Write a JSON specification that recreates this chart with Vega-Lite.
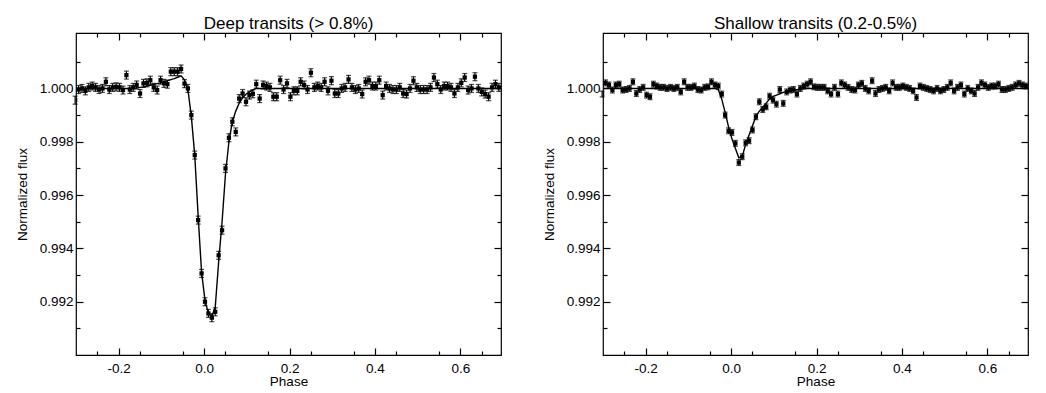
{
"$schema": "https://vega.github.io/schema/vega-lite/v6.json",
"background": "white",
"padding": {"left": 14, "top": 14, "right": 5, "bottom": 0},
"spacing": 38,
"config": {
  "font": "Liberation Sans",
  "mark": {"color": "black"},
  "view": {"stroke": "black", "strokeWidth": 1.2},
  "title": {"font": "Liberation Sans", "fontSize": 17, "fontWeight": "normal", "color": "black", "offset": -1, "frame": "group"},
  "axis": {"labelFont": "Liberation Sans", "labelFontSize": 13.5, "labelColor": "black", "titleFont": "Liberation Sans", "titleFontSize": 13.5, "titleFontWeight": "normal", "titleColor": "black", "tickColor": "black", "tickWidth": 1.2, "domain": false, "grid": false, "labelFlush": false}
},
"datasets": {
"deep": [
{"p":-0.302,"f":0.99956,"m":1,"e":0.00015},{"p":-0.294,"f":0.99996,"m":1,"e":0.00015},{"p":-0.286,"f":1.00000,"m":1,"e":0.00015},{"p":-0.278,"f":0.99991,"m":1,"e":0.00015},{"p":-0.270,"f":1.00004,"m":1,"e":0.00015},{"p":-0.262,"f":1.00009,"m":1,"e":0.00015},{"p":-0.254,"f":1.00004,"m":1,"e":0.00015},{"p":-0.246,"f":0.99996,"m":1,"e":0.00015},{"p":-0.238,"f":1.00000,"m":1,"e":0.00015},{"p":-0.230,"f":1.00025,"m":1,"e":0.00015},
{"p":-0.222,"f":0.99996,"m":1,"e":0.00015},{"p":-0.214,"f":1.00004,"m":1,"e":0.00015},{"p":-0.206,"f":1.00006,"m":1,"e":0.00015},{"p":-0.198,"f":1.00004,"m":1,"e":0.00015},{"p":-0.190,"f":0.99994,"m":1,"e":0.00015},{"p":-0.182,"f":1.00050,"m":1,"e":0.00015},{"p":-0.174,"f":0.99996,"m":1,"e":0.00015},{"p":-0.166,"f":1.00004,"m":1,"e":0.00015},{"p":-0.158,"f":1.00013,"m":1.00002,"e":0.00015},{"p":-0.150,"f":0.99981,"m":1.00004,"e":0.00015},
{"p":-0.142,"f":1.00019,"m":1.00006,"e":0.00015},{"p":-0.134,"f":1.00021,"m":1.00009,"e":0.00015},{"p":-0.126,"f":1.00031,"m":1.00012,"e":0.00015},{"p":-0.118,"f":1.00004,"m":1.00015,"e":0.00015},{"p":-0.110,"f":0.99994,"m":1.00018,"e":0.00015},{"p":-0.102,"f":1.00031,"m":1.00021,"e":0.00015},{"p":-0.094,"f":1.00019,"m":1.00025,"e":0.00015},{"p":-0.086,"f":1.00016,"m":1.00029,"e":0.00015},{"p":-0.078,"f":1.00063,"m":1.00033,"e":0.00015},{"p":-0.070,"f":1.00063,"m":1.00037,"e":0.00015},
{"p":-0.062,"f":1.00063,"m":1.00042,"e":0.00015},{"p":-0.054,"f":1.00073,"m":1.00047,"e":0.00015},{"p":-0.046,"f":1.00018,"m":1.00032,"e":0.00015},{"p":-0.038,"f":1.00000,"m":0.99995,"e":0.00015},{"p":-0.030,"f":0.99900,"m":0.99895,"e":0.00015},{"p":-0.022,"f":0.99750,"m":0.99750,"e":0.00015},{"p":-0.014,"f":0.99506,"m":0.99520,"e":0.00015},{"p":-0.006,"f":0.99306,"m":0.99310,"e":0.00015},{"p":0.002,"f":0.99200,"m":0.99205,"e":0.00015},{"p":0.010,"f":0.99156,"m":0.99155,"e":0.00015},
{"p":0.018,"f":0.99140,"m":0.99145,"e":0.00015},{"p":0.026,"f":0.99162,"m":0.99180,"e":0.00015},{"p":0.034,"f":0.99374,"m":0.99350,"e":0.00015},{"p":0.042,"f":0.99468,"m":0.99500,"e":0.00015},{"p":0.050,"f":0.99700,"m":0.99680,"e":0.00015},{"p":0.058,"f":0.99815,"m":0.99800,"e":0.00015},{"p":0.066,"f":0.99875,"m":0.99875,"e":0.00015},{"p":0.074,"f":0.99837,"m":0.99915,"e":0.00015},{"p":0.082,"f":0.99962,"m":0.99945,"e":0.00015},{"p":0.090,"f":0.99981,"m":0.99965,"e":0.00015},
{"p":0.098,"f":0.99950,"m":0.99978,"e":0.00015},{"p":0.106,"f":0.99975,"m":0.99988,"e":0.00015},{"p":0.114,"f":0.99980,"m":0.99995,"e":0.00015},{"p":0.122,"f":1.00016,"m":1,"e":0.00015},{"p":0.130,"f":0.99962,"m":1,"e":0.00015},{"p":0.138,"f":1.00013,"m":1,"e":0.00015},{"p":0.146,"f":1.00009,"m":1,"e":0.00015},{"p":0.154,"f":1.00004,"m":1,"e":0.00015},{"p":0.162,"f":0.99969,"m":1,"e":0.00015},{"p":0.170,"f":0.99969,"m":1,"e":0.00015},
{"p":0.178,"f":1.00031,"m":1,"e":0.00015},{"p":0.186,"f":0.99996,"m":1,"e":0.00015},{"p":0.194,"f":1.00019,"m":1,"e":0.00015},{"p":0.202,"f":0.99969,"m":1,"e":0.00015},{"p":0.210,"f":0.99991,"m":1,"e":0.00015},{"p":0.218,"f":0.99991,"m":1,"e":0.00015},{"p":0.226,"f":1.00025,"m":1,"e":0.00015},{"p":0.234,"f":1.00013,"m":1,"e":0.00015},{"p":0.242,"f":0.99996,"m":1,"e":0.00015},{"p":0.250,"f":1.00059,"m":1,"e":0.00015},
{"p":0.258,"f":1.00004,"m":1,"e":0.00015},{"p":0.266,"f":1.00009,"m":1,"e":0.00015},{"p":0.274,"f":1.00004,"m":1,"e":0.00015},{"p":0.282,"f":1.00025,"m":1,"e":0.00015},{"p":0.290,"f":0.99991,"m":1,"e":0.00015},{"p":0.298,"f":1.00029,"m":1,"e":0.00015},{"p":0.306,"f":0.99981,"m":1,"e":0.00015},{"p":0.314,"f":0.99981,"m":1,"e":0.00015},{"p":0.322,"f":1.00000,"m":1,"e":0.00015},{"p":0.330,"f":1.00004,"m":1,"e":0.00015},
{"p":0.338,"f":1.00034,"m":1,"e":0.00015},{"p":0.346,"f":1.00004,"m":1,"e":0.00015},{"p":0.354,"f":0.99996,"m":1,"e":0.00015},{"p":0.362,"f":1.00000,"m":1,"e":0.00015},{"p":0.370,"f":0.99979,"m":1,"e":0.00015},{"p":0.378,"f":1.00025,"m":1,"e":0.00015},{"p":0.386,"f":1.00031,"m":1,"e":0.00015},{"p":0.394,"f":1.00009,"m":1,"e":0.00015},{"p":0.402,"f":1.00009,"m":1,"e":0.00015},{"p":0.410,"f":1.00031,"m":1,"e":0.00015},
{"p":0.418,"f":0.99975,"m":1,"e":0.00015},{"p":0.426,"f":1.00009,"m":1,"e":0.00015},{"p":0.434,"f":1.00000,"m":1,"e":0.00015},{"p":0.442,"f":0.99996,"m":1,"e":0.00015},{"p":0.450,"f":0.99996,"m":1,"e":0.00015},{"p":0.458,"f":1.00004,"m":1,"e":0.00015},{"p":0.466,"f":0.99981,"m":1,"e":0.00015},{"p":0.474,"f":0.99979,"m":1,"e":0.00015},{"p":0.482,"f":1.00000,"m":1,"e":0.00015},{"p":0.490,"f":1.00029,"m":1,"e":0.00015},
{"p":0.498,"f":1.00004,"m":1,"e":0.00015},{"p":0.506,"f":0.99996,"m":1,"e":0.00015},{"p":0.514,"f":0.99996,"m":1,"e":0.00015},{"p":0.522,"f":0.99996,"m":1,"e":0.00015},{"p":0.530,"f":1.00004,"m":1,"e":0.00015},{"p":0.538,"f":1.00041,"m":1,"e":0.00015},{"p":0.546,"f":1.00016,"m":1,"e":0.00015},{"p":0.554,"f":0.99996,"m":1,"e":0.00015},{"p":0.562,"f":1.00009,"m":1,"e":0.00015},{"p":0.570,"f":1.00009,"m":1,"e":0.00015},
{"p":0.578,"f":1.00004,"m":1,"e":0.00015},{"p":0.586,"f":0.99981,"m":1,"e":0.00015},{"p":0.594,"f":1.00004,"m":1,"e":0.00015},{"p":0.602,"f":1.00021,"m":1,"e":0.00015},{"p":0.610,"f":1.00041,"m":1,"e":0.00015},{"p":0.618,"f":0.99994,"m":1,"e":0.00015},{"p":0.626,"f":1.00000,"m":1,"e":0.00015},{"p":0.634,"f":1.00044,"m":1,"e":0.00015},{"p":0.642,"f":1.00000,"m":1,"e":0.00015},{"p":0.650,"f":0.99987,"m":1,"e":0.00015},
{"p":0.658,"f":0.99979,"m":1,"e":0.00015},{"p":0.666,"f":0.99969,"m":1,"e":0.00015},{"p":0.674,"f":1.00004,"m":1,"e":0.00015},{"p":0.682,"f":1.00016,"m":1,"e":0.00015},{"p":0.690,"f":1.00004,"m":1,"e":0.00015}
],
"shallow": [
{"p":-0.302,"f":0.99979,"m":1,"e":0.00011},{"p":-0.294,"f":1.00021,"m":1,"e":0.00011},{"p":-0.286,"f":1.00013,"m":1,"e":0.00011},{"p":-0.278,"f":0.99994,"m":1,"e":0.00011},{"p":-0.270,"f":1.00013,"m":1,"e":0.00011},{"p":-0.262,"f":1.00016,"m":1,"e":0.00011},{"p":-0.254,"f":0.99994,"m":1,"e":0.00011},{"p":-0.246,"f":0.99996,"m":1,"e":0.00011},{"p":-0.238,"f":1.00000,"m":1,"e":0.00011},{"p":-0.230,"f":1.00025,"m":1,"e":0.00011},
{"p":-0.222,"f":0.99981,"m":1,"e":0.00011},{"p":-0.214,"f":0.99996,"m":1,"e":0.00011},{"p":-0.206,"f":1.00004,"m":1,"e":0.00011},{"p":-0.198,"f":0.99975,"m":1,"e":0.00011},{"p":-0.190,"f":0.99969,"m":1,"e":0.00011},{"p":-0.182,"f":1.00016,"m":1,"e":0.00011},{"p":-0.174,"f":1.00009,"m":1,"e":0.00011},{"p":-0.166,"f":1.00004,"m":1,"e":0.00011},{"p":-0.158,"f":1.00004,"m":1,"e":0.00011},{"p":-0.150,"f":1.00000,"m":1,"e":0.00011},
{"p":-0.142,"f":1.00004,"m":1,"e":0.00011},{"p":-0.134,"f":1.00000,"m":1,"e":0.00011},{"p":-0.126,"f":1.00004,"m":1,"e":0.00011},{"p":-0.118,"f":0.99987,"m":1,"e":0.00011},{"p":-0.110,"f":1.00025,"m":1,"e":0.00011},{"p":-0.102,"f":1.00004,"m":1,"e":0.00011},{"p":-0.094,"f":1.00004,"m":1,"e":0.00011},{"p":-0.086,"f":1.00009,"m":1,"e":0.00011},{"p":-0.078,"f":0.99996,"m":1,"e":0.00011},{"p":-0.070,"f":0.99994,"m":1,"e":0.00011},
{"p":-0.062,"f":1.00004,"m":1,"e":0.00011},{"p":-0.054,"f":1.00006,"m":1,"e":0.00011},{"p":-0.046,"f":1.00025,"m":1,"e":0.00011},{"p":-0.038,"f":1.00013,"m":1,"e":0.00011},{"p":-0.030,"f":1.00009,"m":0.99995,"e":0.00011},{"p":-0.022,"f":0.99979,"m":0.9996,"e":0.00011},{"p":-0.014,"f":0.99900,"m":0.9991,"e":0.00011},{"p":-0.006,"f":0.99841,"m":0.99855,"e":0.00011},{"p":0.002,"f":0.99835,"m":0.9981,"e":0.00011},{"p":0.010,"f":0.99794,"m":0.99775,"e":0.00011},
{"p":0.018,"f":0.99722,"m":0.9974,"e":0.00011},{"p":0.026,"f":0.99744,"m":0.99745,"e":0.00011},{"p":0.034,"f":0.99796,"m":0.9979,"e":0.00011},{"p":0.042,"f":0.99804,"m":0.99825,"e":0.00011},{"p":0.050,"f":0.99844,"m":0.9986,"e":0.00011},{"p":0.058,"f":0.99894,"m":0.99895,"e":0.00011},{"p":0.066,"f":0.99950,"m":0.99915,"e":0.00011},{"p":0.074,"f":0.99921,"m":0.9993,"e":0.00011},{"p":0.082,"f":0.99931,"m":0.99945,"e":0.00011},{"p":0.090,"f":0.99971,"m":0.9996,"e":0.00011},
{"p":0.098,"f":0.99956,"m":0.9997,"e":0.00011},{"p":0.106,"f":0.99941,"m":0.99975,"e":0.00011},{"p":0.114,"f":0.99996,"m":0.9998,"e":0.00011},{"p":0.122,"f":0.99944,"m":0.99985,"e":0.00011},{"p":0.130,"f":0.99987,"m":0.99988,"e":0.00011},{"p":0.138,"f":0.99994,"m":0.9999,"e":0.00011},{"p":0.146,"f":0.99996,"m":0.99993,"e":0.00011},{"p":0.154,"f":0.99979,"m":0.99995,"e":0.00011},{"p":0.162,"f":1.00000,"m":0.99997,"e":0.00011},{"p":0.170,"f":1.00009,"m":0.99999,"e":0.00011},
{"p":0.178,"f":1.00016,"m":1,"e":0.00011},{"p":0.186,"f":1.00025,"m":1,"e":0.00011},{"p":0.194,"f":1.00006,"m":1,"e":0.00011},{"p":0.202,"f":1.00004,"m":1,"e":0.00011},{"p":0.210,"f":1.00004,"m":1,"e":0.00011},{"p":0.218,"f":1.00004,"m":1,"e":0.00011},{"p":0.226,"f":0.99991,"m":1,"e":0.00011},{"p":0.234,"f":0.99979,"m":1,"e":0.00011},{"p":0.242,"f":1.00004,"m":1,"e":0.00011},{"p":0.250,"f":0.99979,"m":1,"e":0.00011},
{"p":0.258,"f":1.00021,"m":1,"e":0.00011},{"p":0.266,"f":1.00013,"m":1,"e":0.00011},{"p":0.274,"f":1.00004,"m":1,"e":0.00011},{"p":0.282,"f":0.99996,"m":1,"e":0.00011},{"p":0.290,"f":0.99994,"m":1,"e":0.00011},{"p":0.298,"f":1.00013,"m":1,"e":0.00011},{"p":0.306,"f":1.00019,"m":1,"e":0.00011},{"p":0.314,"f":1.00000,"m":1,"e":0.00011},{"p":0.322,"f":0.99991,"m":1,"e":0.00011},{"p":0.330,"f":1.00029,"m":1,"e":0.00011},
{"p":0.338,"f":0.99981,"m":1,"e":0.00011},{"p":0.346,"f":0.99996,"m":1,"e":0.00011},{"p":0.354,"f":1.00000,"m":1,"e":0.00011},{"p":0.362,"f":1.00004,"m":1,"e":0.00011},{"p":0.370,"f":0.99991,"m":1,"e":0.00011},{"p":0.378,"f":1.00021,"m":1,"e":0.00011},{"p":0.386,"f":1.00004,"m":1,"e":0.00011},{"p":0.394,"f":1.00004,"m":1,"e":0.00011},{"p":0.402,"f":1.00009,"m":1,"e":0.00011},{"p":0.410,"f":1.00004,"m":1,"e":0.00011},
{"p":0.418,"f":1.00000,"m":1,"e":0.00011},{"p":0.426,"f":0.99991,"m":1,"e":0.00011},{"p":0.434,"f":0.99966,"m":1,"e":0.00011},{"p":0.442,"f":1.00009,"m":1,"e":0.00011},{"p":0.450,"f":1.00004,"m":1,"e":0.00011},{"p":0.458,"f":1.00000,"m":1,"e":0.00011},{"p":0.466,"f":0.99996,"m":1,"e":0.00011},{"p":0.474,"f":0.99991,"m":1,"e":0.00011},{"p":0.482,"f":1.00000,"m":1,"e":0.00011},{"p":0.490,"f":0.99991,"m":1,"e":0.00011},
{"p":0.498,"f":0.99996,"m":1,"e":0.00011},{"p":0.506,"f":1.00004,"m":1,"e":0.00011},{"p":0.514,"f":1.00021,"m":1,"e":0.00011},{"p":0.522,"f":0.99991,"m":1,"e":0.00011},{"p":0.530,"f":1.00004,"m":1,"e":0.00011},{"p":0.538,"f":1.00013,"m":1,"e":0.00011},{"p":0.546,"f":0.99979,"m":1,"e":0.00011},{"p":0.554,"f":1.00000,"m":1,"e":0.00011},{"p":0.562,"f":0.99991,"m":1,"e":0.00011},{"p":0.570,"f":0.99981,"m":1,"e":0.00011},
{"p":0.578,"f":1.00004,"m":1,"e":0.00011},{"p":0.586,"f":1.00021,"m":1,"e":0.00011},{"p":0.594,"f":1.00013,"m":1,"e":0.00011},{"p":0.602,"f":1.00004,"m":1,"e":0.00011},{"p":0.610,"f":1.00009,"m":1,"e":0.00011},{"p":0.618,"f":1.00009,"m":1,"e":0.00011},{"p":0.626,"f":1.00016,"m":1,"e":0.00011},{"p":0.634,"f":0.99996,"m":1,"e":0.00011},{"p":0.642,"f":0.99996,"m":1,"e":0.00011},{"p":0.650,"f":1.00000,"m":1,"e":0.00011},
{"p":0.658,"f":1.00004,"m":1,"e":0.00011},{"p":0.666,"f":1.00013,"m":1,"e":0.00011},{"p":0.674,"f":1.00019,"m":1,"e":0.00011},{"p":0.682,"f":1.00013,"m":1,"e":0.00011},{"p":0.690,"f":1.00009,"m":1,"e":0.00011}
]
},
"hconcat": [
{
 "title": {"text": "Deep transits (> 0.8%)"},
 "width": 425, "height": 322,
 "data": {"name": "deep"},
 "resolve": {"axis": {"x": "independent", "y": "independent"}},
 "layer": [
  {"mark": {"type": "errorbar", "ticks": {"size": 5, "thickness": 1.2}, "thickness": 1.2, "color": "black"},
   "encoding": {
    "x": {"field": "p", "type": "quantitative", "scale": {"domain": [-0.3, 0.695], "nice": false, "zero": false}, "axis": {"orient": "bottom", "values": [-0.2, 0, 0.2, 0.4, 0.6], "format": ".1f", "labelExpr": "replace(datum.label, '−', '-')", "tickSize": 7, "offset": -7, "labelPadding": 6, "title": "Phase", "titlePadding": 0}},
    "y": {"field": "f", "type": "quantitative", "scale": {"domain": [0.99, 1.00208], "nice": false, "zero": false}, "axis": {"orient": "left", "values": [0.992, 0.994, 0.996, 0.998, 1.0], "format": ".3f", "tickSize": 7, "offset": -7, "labelPadding": 3, "title": "Normalized flux", "titlePadding": 10}},
    "yError": {"field": "e"}
   }},
  {"mark": {"type": "point", "shape": "square", "filled": true, "size": 18, "opacity": 1, "color": "black", "clip": true},
   "encoding": {
    "x": {"field": "p", "type": "quantitative", "axis": {"orient": "bottom", "values": [-0.25, -0.15, -0.05, 0.05, 0.15, 0.25, 0.35, 0.45, 0.55, 0.65], "tickSize": 4, "offset": -4, "labels": false, "title": null}},
    "y": {"field": "f", "type": "quantitative", "axis": {"orient": "left", "values": [0.991, 0.993, 0.995, 0.997, 0.999, 1.001], "tickSize": 4, "offset": -4, "labels": false, "title": null}}
   }},
  {"mark": {"type": "line", "strokeWidth": 1.4, "color": "black", "clip": true},
   "encoding": {
    "x": {"field": "p", "type": "quantitative", "axis": {"orient": "top", "values": [-0.2, 0, 0.2, 0.4, 0.6], "tickSize": 7, "offset": -7, "labels": false, "title": null}},
    "y": {"field": "m", "type": "quantitative", "axis": {"orient": "right", "values": [0.992, 0.994, 0.996, 0.998, 1.0], "tickSize": 7, "offset": -7, "labels": false, "title": null}}
   }},
  {"mark": {"type": "point", "opacity": 0},
   "encoding": {
    "x": {"field": "p", "type": "quantitative", "axis": {"orient": "top", "values": [-0.25, -0.15, -0.05, 0.05, 0.15, 0.25, 0.35, 0.45, 0.55, 0.65], "tickSize": 4, "offset": -4, "labels": false, "title": null}},
    "y": {"field": "m", "type": "quantitative", "axis": {"orient": "right", "values": [0.991, 0.993, 0.995, 0.997, 0.999, 1.001], "tickSize": 4, "offset": -4, "labels": false, "title": null}}
   }}
 ]
},
{
 "title": {"text": "Shallow transits (0.2-0.5%)"},
 "width": 425, "height": 322,
 "data": {"name": "shallow"},
 "resolve": {"axis": {"x": "independent", "y": "independent"}},
 "layer": [
  {"mark": {"type": "errorbar", "ticks": {"size": 5, "thickness": 1.2}, "thickness": 1.2, "color": "black"},
   "encoding": {
    "x": {"field": "p", "type": "quantitative", "scale": {"domain": [-0.3, 0.695], "nice": false, "zero": false}, "axis": {"orient": "bottom", "values": [-0.2, 0, 0.2, 0.4, 0.6], "format": ".1f", "labelExpr": "replace(datum.label, '−', '-')", "tickSize": 7, "offset": -7, "labelPadding": 6, "title": "Phase", "titlePadding": 0}},
    "y": {"field": "f", "type": "quantitative", "scale": {"domain": [0.99, 1.00208], "nice": false, "zero": false}, "axis": {"orient": "left", "values": [0.992, 0.994, 0.996, 0.998, 1.0], "format": ".3f", "tickSize": 7, "offset": -7, "labelPadding": 3, "title": "Normalized flux", "titlePadding": 10}},
    "yError": {"field": "e"}
   }},
  {"mark": {"type": "point", "shape": "square", "filled": true, "size": 18, "opacity": 1, "color": "black", "clip": true},
   "encoding": {
    "x": {"field": "p", "type": "quantitative", "axis": {"orient": "bottom", "values": [-0.25, -0.15, -0.05, 0.05, 0.15, 0.25, 0.35, 0.45, 0.55, 0.65], "tickSize": 4, "offset": -4, "labels": false, "title": null}},
    "y": {"field": "f", "type": "quantitative", "axis": {"orient": "left", "values": [0.991, 0.993, 0.995, 0.997, 0.999, 1.001], "tickSize": 4, "offset": -4, "labels": false, "title": null}}
   }},
  {"mark": {"type": "line", "strokeWidth": 1.4, "color": "black", "clip": true},
   "encoding": {
    "x": {"field": "p", "type": "quantitative", "axis": {"orient": "top", "values": [-0.2, 0, 0.2, 0.4, 0.6], "tickSize": 7, "offset": -7, "labels": false, "title": null}},
    "y": {"field": "m", "type": "quantitative", "axis": {"orient": "right", "values": [0.992, 0.994, 0.996, 0.998, 1.0], "tickSize": 7, "offset": -7, "labels": false, "title": null}}
   }},
  {"mark": {"type": "point", "opacity": 0},
   "encoding": {
    "x": {"field": "p", "type": "quantitative", "axis": {"orient": "top", "values": [-0.25, -0.15, -0.05, 0.05, 0.15, 0.25, 0.35, 0.45, 0.55, 0.65], "tickSize": 4, "offset": -4, "labels": false, "title": null}},
    "y": {"field": "m", "type": "quantitative", "axis": {"orient": "right", "values": [0.991, 0.993, 0.995, 0.997, 0.999, 1.001], "tickSize": 4, "offset": -4, "labels": false, "title": null}}
   }}
 ]
}
]
}
